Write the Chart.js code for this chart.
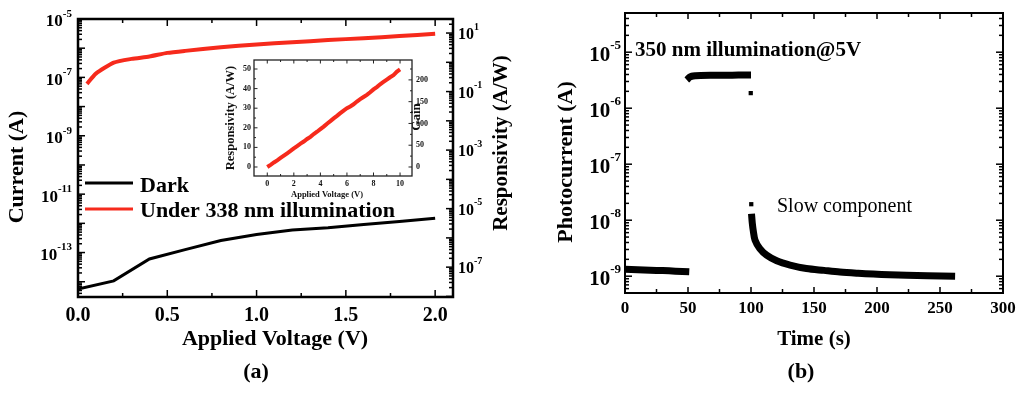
<!DOCTYPE html>
<html>
<head>
<meta charset="utf-8">
<script src="https://cdn.jsdelivr.net/npm/chart.js@4.4.1/dist/chart.umd.min.js"></script>
<style>
  body { margin: 0; background: #fff; }
  #wrap { position: relative; width: 1024px; height: 399px; overflow: hidden; }
  canvas { position: absolute; }
</style>
</head>
<body>
<div id="wrap">
  <canvas id="chartA" width="512" height="399" style="left:0;top:0"></canvas>
  <canvas id="chartInset" width="220" height="165" style="left:215px;top:50px"></canvas>
  <canvas id="chartB" width="512" height="399" style="left:512px;top:0"></canvas>
</div>
<script>
// panel (a): I-V curves
const voltDark = [0, 0.2, 0.4, 0.6, 0.8, 1.0, 1.2, 1.4, 1.6, 1.8, 2.0];
const currDark = [5.6e-15, 1.07e-14, 6.0e-14, 1.26e-13, 2.57e-13, 4.17e-13, 5.9e-13, 7.1e-13, 9.1e-13, 1.15e-12, 1.5e-12];
const voltIllum = [0.05, 0.1, 0.2, 0.3, 0.4, 0.5, 0.6, 0.8, 1.0, 1.2, 1.4, 1.6, 1.8, 2.0];
const currIllum = [6e-8, 1.35e-7, 3.2e-7, 4.3e-7, 5.2e-7, 6.9e-7, 8.1e-7, 1.07e-6, 1.35e-6, 1.6e-6, 1.9e-6, 2.2e-6, 2.6e-6, 3.1e-6];
const xLabelsA = ['0.0', '0.5', '1.0', '1.5', '2.0'];
const leftExpA = [-13, -11, -9, -7, -5];
const rightExpA = [-7, -5, -3, -1, 1];

// inset: responsivity vs voltage
const insetVolt = [0, 0.25, 0.5, 0.75, 1, 1.25, 1.5, 1.75, 2, 2.25, 2.5, 2.75, 3, 3.25, 3.5, 3.75, 4, 4.25, 4.5, 4.75, 5,
  5.25, 5.5, 5.75, 6, 6.25, 6.5, 6.75, 7, 7.25, 7.5, 7.75, 8, 8.25, 8.5, 8.75, 9, 9.25, 9.5, 9.75, 10];
const insetResp = [0, 1.1, 2.3, 3.4, 4.6, 5.8, 7.0, 8.2, 9.5, 10.7, 11.9, 13.0, 14.3, 15.4, 16.8, 18.0, 19.3, 20.6, 22.1, 23.4, 24.8,
  26.1, 27.5, 28.8, 30.0, 30.9, 32.0, 33.4, 34.6, 35.7, 36.8, 38.1, 39.6, 40.8, 42.2, 43.4, 44.6, 45.8, 46.8, 48.6, 49.8];
const insetXTicks = [0, 2, 4, 6, 8, 10];
const insetYTicks = [0, 10, 20, 30, 40, 50];
const gainTicks = [0, 50, 100, 150, 200];

// panel (b): transient photocurrent
const tDark = [0, 10, 20, 30, 40, 51];
const iDark = [1.33e-9, 1.31e-9, 1.28e-9, 1.26e-9, 1.23e-9, 1.2e-9];
const tOn = [49, 50, 51, 53, 56, 60, 70, 80, 90, 100];
const iOn = [3.2e-6, 3.35e-6, 3.55e-6, 3.72e-6, 3.8e-6, 3.85e-6, 3.87e-6, 3.88e-6, 3.9e-6, 3.9e-6];
const tOff = [100.4, 101, 101.8, 103.2, 107, 112.4, 120.4, 131, 144, 158, 170.6, 185, 197, 210, 223.6, 240, 262];
const iOff = [1.3e-8, 9e-9, 6.5e-9, 4.4e-9, 3.1e-9, 2.37e-9, 1.88e-9, 1.58e-9, 1.37e-9, 1.27e-9, 1.19e-9, 1.13e-9, 1.09e-9, 1.06e-9, 1.04e-9, 1.02e-9, 1.0e-9];
const tSpike = [99.8, 100.2];
const iSpike = [1.86e-6, 1.93e-8];
const xLabelsB = [0, 50, 100, 150, 200, 250, 300];
const expB = [-9, -8, -7, -6, -5];

const SERIF = '"Liberation Serif", "Times New Roman", serif';
const RED = '#f62a1c';

function pts(xs, ys) { return xs.map((x, i) => ({ x: x, y: ys[i] })); }

function logValues(scale, major) {
  const out = [];
  for (let d = Math.floor(Math.log10(scale.min)); d <= Math.ceil(Math.log10(scale.max)); d++) {
    for (let m = 1; m <= 9; m++) {
      const v = m * Math.pow(10, d);
      if (v >= scale.min && v <= scale.max && (m === 1) === major) out.push(v);
    }
  }
  return out;
}

function marks(ctx, scale, values, len, edge, ca) {
  values.forEach(v => {
    const p = scale.getPixelForValue(v);
    ctx.beginPath();
    if (edge === 'left') { ctx.moveTo(ca.left, p); ctx.lineTo(ca.left + len, p); }
    if (edge === 'right') { ctx.moveTo(ca.right, p); ctx.lineTo(ca.right - len, p); }
    if (edge === 'bottom') { ctx.moveTo(p, ca.bottom); ctx.lineTo(p, ca.bottom - len); }
    if (edge === 'top') { ctx.moveTo(p, ca.top); ctx.lineTo(p, ca.top + len); }
    ctx.stroke();
  });
}

function powLabel(ctx, exp, x, y, align, big, small, rise) {
  ctx.font = big;
  const w1 = ctx.measureText('10').width;
  ctx.font = small;
  const w2 = ctx.measureText(String(exp)).width;
  const x0 = align === 'right' ? x - w1 - w2 : x;
  ctx.textAlign = 'left';
  ctx.textBaseline = 'middle';
  ctx.font = big;
  ctx.fillText('10', x0, y);
  ctx.font = small;
  ctx.fillText(String(exp), x0 + w1, y - rise);
}

function vText(ctx, text, x, y, font) {
  ctx.save();
  ctx.translate(x, y);
  ctx.rotate(-Math.PI / 2);
  ctx.font = font;
  ctx.textAlign = 'center';
  ctx.textBaseline = 'middle';
  ctx.fillText(text, 0, 0);
  ctx.restore();
}

function range(a, b, step) {
  const out = [];
  for (let v = a; v <= b + 1e-9; v += step) out.push(+v.toFixed(6));
  return out;
}

// ---------- panel (a) ----------
const axesA = {
  id: 'axesA',
  afterDraw(chart) {
    const ctx = chart.ctx, ca = chart.chartArea;
    const x = chart.scales.x, y = chart.scales.y, y2 = chart.scales.y2;
    ctx.save();
    ctx.strokeStyle = '#000';
    ctx.fillStyle = '#000';
    ctx.lineWidth = 1.5;
    marks(ctx, y, logValues(y, true), 7, 'left', ca);
    marks(ctx, y, logValues(y, false), 4, 'left', ca);
    marks(ctx, y2, logValues(y2, true), 7, 'right', ca);
    marks(ctx, y2, logValues(y2, false), 4, 'right', ca);
    const xMajor = xLabelsA.map(Number);
    const xMinor = range(0.25, 2.0, 0.5);
    ['bottom', 'top'].forEach(e => {
      marks(ctx, x, xMajor, 7, e, ca);
      marks(ctx, x, xMinor, 4, e, ca);
    });
    ctx.lineWidth = 2.5;
    ctx.strokeRect(ca.left, ca.top, ca.width, ca.height);

    leftExpA.forEach(e => powLabel(ctx, e, 72, y.getPixelForValue(Math.pow(10, e)) + 3,
      'right', 'bold 17px ' + SERIF, 'bold 11px ' + SERIF, 8));
    rightExpA.forEach(e => powLabel(ctx, e, 458, y2.getPixelForValue(Math.pow(10, e)) + 2,
      'left', 'bold 16px ' + SERIF, 'bold 10px ' + SERIF, 8));

    ctx.font = 'bold 20px ' + SERIF;
    ctx.textAlign = 'center';
    ctx.textBaseline = 'alphabetic';
    xLabelsA.forEach(l => ctx.fillText(l, x.getPixelForValue(Number(l)), 321));
    ctx.font = 'bold 22px ' + SERIF;
    ctx.fillText('Applied Voltage (V)', 275, 345);
    ctx.fillText('(a)', 256, 378);
    vText(ctx, 'Current (A)', 17, 167, 'bold 22px ' + SERIF);
    vText(ctx, 'Responsivity (A/W)', 502, 143, 'bold 21px ' + SERIF);

    // legend
    ctx.lineWidth = 3;
    ctx.strokeStyle = '#000';
    ctx.beginPath(); ctx.moveTo(85, 183); ctx.lineTo(133, 183); ctx.stroke();
    ctx.strokeStyle = RED;
    ctx.beginPath(); ctx.moveTo(85, 209); ctx.lineTo(133, 209); ctx.stroke();
    ctx.textAlign = 'left';
    ctx.font = 'bold 22px ' + SERIF;
    ctx.fillText('Dark', 140, 192);
    ctx.fillText('Under 338 nm illumination', 140, 217);
    ctx.restore();
  }
};

new Chart(document.getElementById('chartA'), {
  type: 'line',
  data: {
    datasets: [
      { label: 'Dark', data: pts(voltDark, currDark), borderColor: '#000', borderWidth: 3, pointRadius: 0, tension: 0 },
      { label: 'Under 338 nm illumination', data: pts(voltIllum, currIllum), borderColor: RED, borderWidth: 4, pointRadius: 0, tension: 0.2 }
    ]
  },
  options: {
    responsive: false,
    animation: false,
    devicePixelRatio: 1,
    layout: { padding: { left: 78, top: 19, right: 59, bottom: 102 } },
    plugins: { legend: { display: false }, tooltip: { enabled: false } },
    scales: {
      x: { type: 'linear', min: 0, max: 2.1, display: false },
      y: { type: 'logarithmic', min: Math.pow(10, -14.5), max: 1e-5, display: false },
      y2: { type: 'logarithmic', min: Math.pow(10, -8.02), max: Math.pow(10, 1.48), display: false }
    }
  },
  plugins: [axesA]
});

// ---------- inset ----------
const axesInset = {
  id: 'axesInset',
  beforeDatasetsDraw(chart) {
    const ctx = chart.ctx, ca = chart.chartArea;
    ctx.save();
    ctx.fillStyle = '#fff';
    ctx.fillRect(ca.left, ca.top, ca.width, ca.height);
    ctx.restore();
  },
  afterDraw(chart) {
    const ctx = chart.ctx, ca = chart.chartArea;
    const x = chart.scales.x, y = chart.scales.y, y2 = chart.scales.y2;
    ctx.save();
    ctx.strokeStyle = '#222';
    ctx.fillStyle = '#111';
    ctx.lineWidth = 1;
    ['bottom', 'top'].forEach(e => {
      marks(ctx, x, insetXTicks, 3.5, e, ca);
      marks(ctx, x, range(1, 9, 2), 2, e, ca);
    });
    marks(ctx, y, insetYTicks, 3.5, 'left', ca);
    marks(ctx, y, range(5, 45, 10), 2, 'left', ca);
    marks(ctx, y2, gainTicks, 3.5, 'right', ca);
    marks(ctx, y2, range(25, 225, 50), 2, 'right', ca);
    ctx.lineWidth = 1.3;
    ctx.strokeRect(ca.left, ca.top, ca.width, ca.height);

    ctx.font = 'bold 8px ' + SERIF;
    ctx.textBaseline = 'middle';
    ctx.textAlign = 'right';
    insetYTicks.forEach(v => ctx.fillText(String(v), 36, y.getPixelForValue(v)));
    ctx.textAlign = 'left';
    gainTicks.forEach(v => ctx.fillText(String(v), 201, y2.getPixelForValue(v)));
    ctx.textAlign = 'center';
    ctx.textBaseline = 'alphabetic';
    insetXTicks.forEach(v => ctx.fillText(String(v), x.getPixelForValue(v), 136));
    ctx.font = 'bold 8.5px ' + SERIF;
    ctx.fillText('Applied Voltage (V)', 112, 147);
    vText(ctx, 'Responsivity (A/W)', 16, 68, 'bold 12.5px ' + SERIF);
    vText(ctx, 'Gain', 202, 67, 'bold 13px ' + SERIF);
    ctx.restore();
  }
};

new Chart(document.getElementById('chartInset'), {
  type: 'line',
  data: {
    datasets: [
      { label: 'Responsivity', data: pts(insetVolt, insetResp), borderColor: RED, borderWidth: 4, pointRadius: 0, tension: 0 }
    ]
  },
  options: {
    responsive: false,
    animation: false,
    devicePixelRatio: 1,
    layout: { padding: { left: 39, top: 10, right: 23, bottom: 39 } },
    plugins: { legend: { display: false }, tooltip: { enabled: false } },
    scales: {
      x: { type: 'linear', min: -1, max: 10.9, display: false },
      y: { type: 'linear', min: -4.6, max: 54.6, display: false },
      y2: { type: 'linear', min: -4.6 * 4.5, max: 54.6 * 4.5, display: false }
    }
  },
  plugins: [axesInset]
});

// ---------- panel (b) ----------
const axesB = {
  id: 'axesB',
  afterDraw(chart) {
    const ctx = chart.ctx, ca = chart.chartArea;
    const x = chart.scales.x, y = chart.scales.y;
    ctx.save();
    ctx.strokeStyle = '#000';
    ctx.fillStyle = '#000';
    ctx.lineWidth = 1.5;
    ['left', 'right'].forEach(e => {
      marks(ctx, y, logValues(y, true), 7, e, ca);
      marks(ctx, y, logValues(y, false), 4, e, ca);
    });
    ['bottom', 'top'].forEach(e => {
      marks(ctx, x, xLabelsB, 6, e, ca);
      marks(ctx, x, range(25, 275, 50), 4, e, ca);
    });
    ctx.lineWidth = 2;
    ctx.strokeRect(ca.left, ca.top, ca.width, ca.height);

    expB.forEach(e => powLabel(ctx, e, 117 - 8, y.getPixelForValue(Math.pow(10, e)) + 3,
      'right', 'bold 21px ' + SERIF, 'bold 13px ' + SERIF, 10));
    ctx.font = 'bold 17px ' + SERIF;
    ctx.textAlign = 'center';
    ctx.textBaseline = 'alphabetic';
    xLabelsB.forEach(v => ctx.fillText(String(v), x.getPixelForValue(v), 313));
    ctx.font = 'bold 21px ' + SERIF;
    ctx.fillText('Time (s)', 302, 345);
    ctx.font = 'bold 22px ' + SERIF;
    ctx.fillText('(b)', 289, 378);
    vText(ctx, 'Photocurrent (A)', 54, 162, 'bold 22px ' + SERIF);
    ctx.textAlign = 'left';
    ctx.font = 'bold 21px ' + SERIF;
    ctx.fillText('350 nm illumination@5V', 123, 56);
    ctx.font = '20px ' + SERIF;
    ctx.fillText('Slow component', 265, 212);
    ctx.restore();
  }
};

new Chart(document.getElementById('chartB'), {
  type: 'line',
  data: {
    datasets: [
      { label: 'dark', data: pts(tDark, iDark), borderColor: '#000', borderWidth: 7, borderCapStyle: 'butt', pointRadius: 0, tension: 0.3 },
      { label: 'on', data: pts(tOn, iOn), borderColor: '#000', borderWidth: 7, borderCapStyle: 'butt', pointRadius: 0, tension: 0.3 },
      { label: 'off', data: pts(tOff, iOff), borderColor: '#000', borderWidth: 7, borderCapStyle: 'butt', pointRadius: 0, tension: 0.3 },
      { label: 'spike', data: pts(tSpike, iSpike), showLine: false, pointStyle: 'rect', pointRadius: 3, backgroundColor: '#000', borderColor: '#000', borderWidth: 0 }
    ]
  },
  options: {
    responsive: false,
    animation: false,
    devicePixelRatio: 1,
    layout: { padding: { left: 113, top: 13, right: 21, bottom: 106 } },
    plugins: { legend: { display: false }, tooltip: { enabled: false } },
    scales: {
      x: { type: 'linear', min: 0, max: 300, display: false },
      y: { type: 'logarithmic', min: Math.pow(10, -9.3), max: Math.pow(10, -4.3), display: false }
    }
  },
  plugins: [axesB]
});
</script>
</body>
</html>
